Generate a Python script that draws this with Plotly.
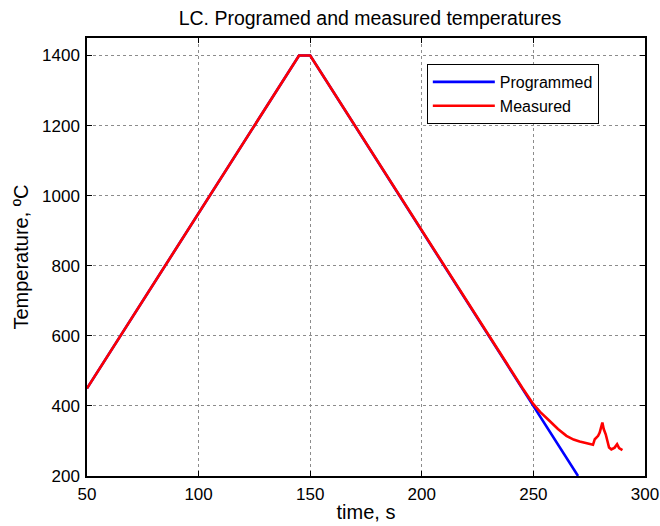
import plotly.graph_objects as go

# Programmed profile
prog_t = [50, 145, 150, 270]
prog_T = [450, 1400, 1400, 200]

# Measured profile
meas_t = [50, 145, 150, 239.4, 245, 250, 253, 257.3, 261, 264.8, 268, 270.7, 273, 275.2, 276.7,
          277.5, 279, 279.7, 280.9, 281.5, 282.4, 283.9, 284.9, 286.4, 287.5, 288.4, 289.9]
meas_T = [450, 1400, 1400, 506, 452, 405, 383, 357, 334, 314.6, 304, 298.5, 295, 290.9, 289,
          305, 314.6, 324, 352.5, 334, 319, 281, 276, 281, 290.9, 279.5, 273.8]

x_ticks = [50, 100, 150, 200, 250, 300]
y_ticks = [200, 400, 600, 800, 1000, 1200, 1400]

FONT = "Liberation Sans, Arial, sans-serif"

fig = go.Figure()
fig.add_trace(go.Scatter(x=prog_t, y=prog_T, mode="lines", name="Programmed",
                         line=dict(color="#0000ff", width=2.6)))
fig.add_trace(go.Scatter(x=meas_t, y=meas_T, mode="lines", name="Measured",
                         line=dict(color="#ff0000", width=2.6)))

axis_common = dict(
    showline=True, linecolor="black", linewidth=1.5, mirror="ticks",
    ticks="inside", ticklen=5, tickcolor="black", tickwidth=1,
    showgrid=True, gridcolor="#8c8c8c", griddash="dot", gridwidth=1,
    zeroline=False, automargin=False,
    tickfont=dict(family=FONT, size=17, color="black"),
)

fig.update_layout(
    width=660, height=526,
    margin=dict(l=87, r=15, t=38, b=50),
    paper_bgcolor="white", plot_bgcolor="white",
    title=dict(text="LC. Programed and measured temperatures", x=0.5606, xanchor="center",
               y=0.965, yanchor="middle",
               font=dict(family=FONT, size=19.5, color="black")),
    xaxis=dict(range=[50, 300], tickvals=x_ticks, ticklabelstandoff=2,
               title=dict(text="time, s", standoff=2, font=dict(family=FONT, size=20, color="black")),
               **axis_common),
    yaxis=dict(range=[200, 1450], tickvals=y_ticks, ticklabelstandoff=2,
               title=dict(text="Temperature, ºC", standoff=8, font=dict(family=FONT, size=20, color="black")),
               **axis_common),
    legend=dict(x=0.609, y=0.9406, xanchor="left", yanchor="top",
                bordercolor="black", borderwidth=1, bgcolor="white",
                font=dict(family=FONT, size=16, color="black"),
                tracegroupgap=0, itemwidth=62),
    showlegend=True,
)

fig.write_html("out.html", config={"displayModeBar": False},
               post_script="document.body.style.margin='0';document.body.style.padding='0';")
